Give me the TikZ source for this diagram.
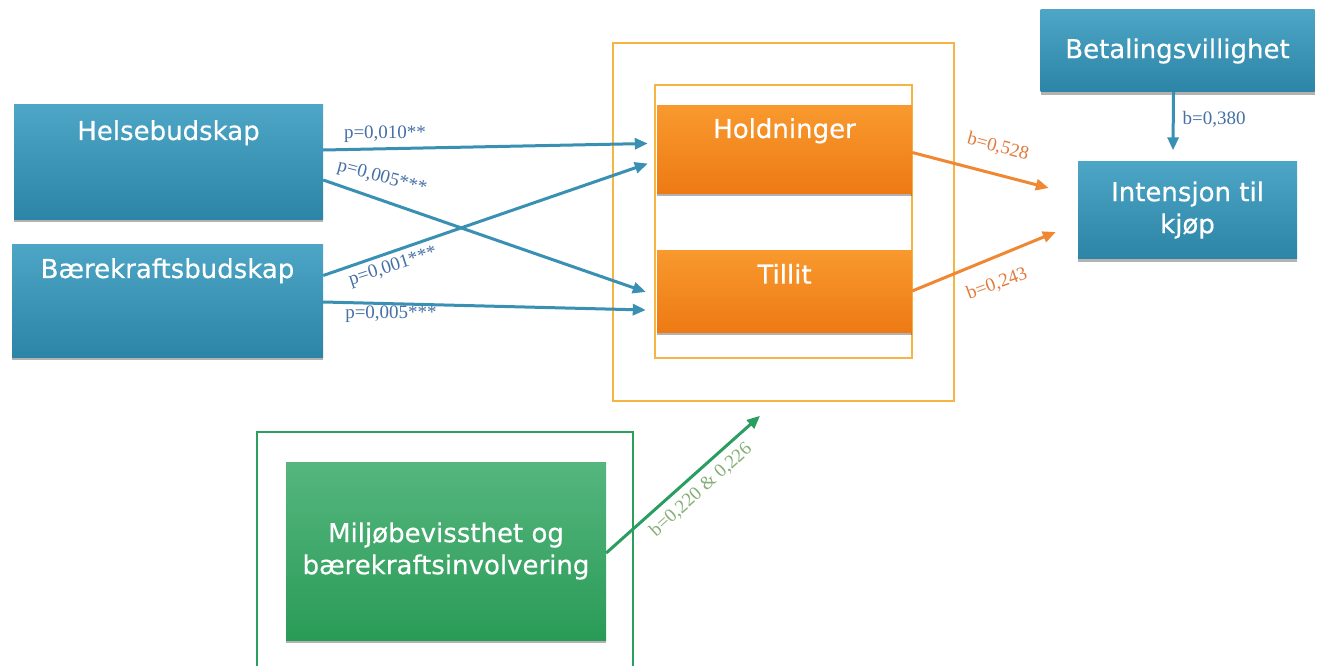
\documentclass[tikz,border=0pt]{standalone}
\usepackage{fontspec}
\setmainfont{Liberation Serif}
\newfontfamily\boxfont[FakeBold=0.5]{DejaVu Sans}
\usetikzlibrary{arrows.meta,shadows,calc}

\definecolor{bluetop}{HTML}{4DA6C6}
\definecolor{bluebot}{HTML}{2C84A6}
\definecolor{orgtop}{HTML}{F8992E}
\definecolor{orgbot}{HTML}{EE7A14}
\definecolor{grtop}{HTML}{55B67E}
\definecolor{grbot}{HTML}{2A9B57}
\definecolor{bluearrow}{HTML}{3A90B2}
\definecolor{orgarrow}{HTML}{EF8733}
\definecolor{grarrow}{HTML}{2A9E60}
\definecolor{framey}{HTML}{F6B443}
\definecolor{framegr}{HTML}{2AA05C}
\definecolor{bluelab}{HTML}{4670A6}
\definecolor{orglab}{HTML}{E27B3C}
\definecolor{grlab}{HTML}{87AE76}

\begin{document}
\begin{tikzpicture}[x=1pt,y=-1pt,
  box/.style={rectangle, inner sep=0pt,
    drop shadow={shadow xshift=0pt,shadow yshift=-3pt,opacity=0.3,fill=black}},
  bluebox/.style={box, top color=bluetop, bottom color=bluebot},
  orgbox/.style={box, top color=orgtop, bottom color=orgbot},
  grbox/.style={box, top color=grtop, bottom color=grbot},
  boxtext/.style={text=white, font=\boxfont\fontsize{26}{32}\selectfont, align=center},
  frameorg/.style={draw=framey, line width=1.6pt, rectangle, inner sep=0pt},
  arr/.style={line width=3pt, -{Triangle[length=13pt,width=11pt]}},
  bluearr/.style={arr, draw=bluearrow},
  orgarr/.style={arr, draw=orgarrow},
  grarr/.style={arr, draw=grarrow},
  lab/.style={font=\fontsize{19}{21}\selectfont, inner sep=0pt},
]
\useasboundingbox (0,0) rectangle (1324,666);
\fill[white] (0,0) rectangle (1324,666);

% frames
\node[frameorg, minimum width=341pt, minimum height=358pt] (outer) at (783.5,222) {};
\node[frameorg, minimum width=257pt, minimum height=273pt] (inner) at (783.5,221.5) {};
\draw[framegr, line width=2.2pt] (257,668) |- (633,432) -- (633,668);

% boxes
\node[bluebox, minimum width=309pt, minimum height=114pt,
  label={[boxtext,anchor=center,yshift=-28pt]north:Helsebudskap}] (helse) at (168.5,162) {};
\node[bluebox, minimum width=311pt, minimum height=113pt,
  label={[boxtext,anchor=center,yshift=-27pt]north:Bærekraftsbudskap}] (baere) at (167.5,300.5) {};
\node[orgbox, minimum width=255pt, minimum height=87pt,
  label={[boxtext,anchor=center,yshift=-25pt]north:Holdninger}] (hold) at (784.5,149.5) {};
\node[orgbox, minimum width=255pt, minimum height=82pt,
  label={[boxtext,anchor=center,yshift=-24pt]north:Tillit}] (till) at (784.5,291) {};
\node[bluebox, boxtext, minimum width=274pt, minimum height=82pt] (betal) at (1177.5,51) {Betalingsvillighet};
\node[bluebox, boxtext, minimum width=219pt, minimum height=97pt] (intens) at (1187.5,210) {Intensjon til\\kjøp};
\node[grbox, boxtext, minimum width=320pt, minimum height=178pt] (miljo) at (446,551) {Miljøbevissthet og\\bærekraftsinvolvering};

% blue arrows
\draw[bluearr] ([yshift=12pt]helse.east) -- ([xshift=-9pt,yshift=6pt]hold.west);
\draw[bluearr] ([yshift=-18pt]helse.east) -- ([xshift=-11pt,yshift=-1pt]till.west);
\draw[bluearr] ([yshift=25pt]baere.east) -- ([xshift=-9pt,yshift=-14pt]hold.west);
\draw[bluearr] ([yshift=-1.5pt]baere.east) -- ([xshift=-11pt,yshift=-19pt]till.west);

% orange arrows
\draw[orgarr] ([yshift=-3pt]hold.east) -- ([xshift=-29pt,yshift=22pt]intens.west);
\draw[orgarr] ([yshift=0pt]till.east) -- ([xshift=-22pt,yshift=-22pt]intens.west);

% blue vertical arrow
\draw[bluearr] ([xshift=-4pt]betal.south) -- ([xshift=-14.5pt,yshift=11pt]intens.north);

% green arrow
\draw[grarr] ([yshift=-2pt]miljo.east) -- ([xshift=-23.5pt,yshift=-14pt]outer.south);

% labels
\node[lab, text=bluelab] (l1) at (385,134) {p=0,010**};
\node[lab, text=bluelab, rotate=-15] (l2) at (382,178) {p=0,005***};
\node[lab, text=bluelab, rotate=18] (l3) at (393,267) {p=0,001***};
\node[lab, text=bluelab] (l4) at (391,314) {p=0,005***};
\node[lab, text=orglab, rotate=-15] (l5) at (998,147) {b=0,528};
\node[lab, text=orglab, rotate=20] (l6) at (997,284) {b=0,243};
\node[lab, text=bluelab] (l7) at (1214,119) {b=0,380};
\node[lab, text=grlab, rotate=42] (l8) at (701,490) {b=0,220 \& 0,226};
\end{tikzpicture}
\end{document}
